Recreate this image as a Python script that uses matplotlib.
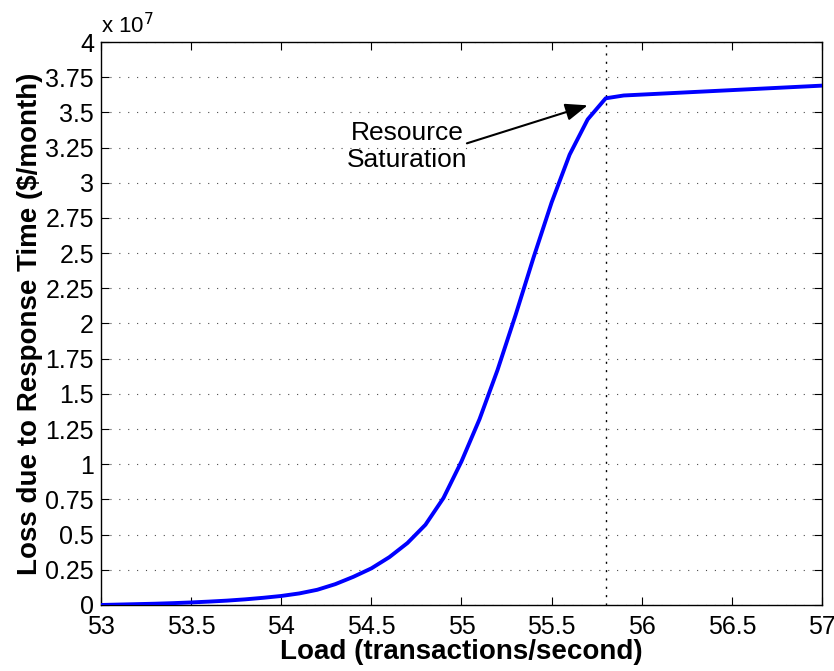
import numpy as np
import matplotlib.pyplot as plt
from matplotlib.ticker import MultipleLocator, FuncFormatter

plt.rcParams['font.family'] = ['Liberation Sans', 'DejaVu Sans']

# нагрузка (транзакций/с) и потери (x 1e7 $/месяц)
load = [53.0, 53.1, 53.2, 53.3, 53.4, 53.5, 53.6, 53.7, 53.8, 53.9,
        54.0, 54.1, 54.2, 54.3, 54.4, 54.5, 54.6, 54.7, 54.8, 54.9,
        55.0, 55.1, 55.2, 55.3, 55.4, 55.5, 55.6, 55.7, 55.8, 55.9, 57.0]
loss = [0.0, 0.003, 0.006, 0.009, 0.013, 0.018, 0.024, 0.031, 0.040, 0.051,
        0.064, 0.082, 0.108, 0.148, 0.200, 0.26, 0.34, 0.44, 0.57, 0.76,
        1.02, 1.32, 1.67, 2.06, 2.47, 2.86, 3.20, 3.45, 3.60, 3.62, 3.69]
saturation_load = 55.8

fig = plt.figure(figsize=(8.34, 6.71), dpi=100)
ax = fig.add_axes([0.1211, 0.0984, 0.8645, 0.839])

ax.plot(load, np.array(loss) * 1e7, color='#0000ff', lw=2.8, zorder=3)
ax.axvline(saturation_load, color='k', ls=(0, (1.5, 4.5)), lw=1.0, zorder=2)

ax.set_xlim(53, 57)
ax.set_ylim(0, 4e7)
ax.xaxis.set_major_locator(MultipleLocator(0.5))
ax.yaxis.set_major_locator(MultipleLocator(0.25e7))
ax.xaxis.set_major_formatter(FuncFormatter(lambda v, p: f'{v:g}'))
ax.yaxis.set_major_formatter(FuncFormatter(lambda v, p: f'{v / 1e7:g}'))
ax.tick_params(direction='in', length=6, width=0.8, top=True, right=True,
               labelsize=18, colors='k')
ax.tick_params(axis='x', pad=7)
ax.tick_params(axis='y', pad=5)
ax.yaxis.grid(True, color='0.3', ls=(0, (1, 7)), lw=0.8)
for s in ax.spines.values():
    s.set_linewidth(1.0)

ax.text(0.0, 1.006, r'x 10$^{7}$', transform=ax.transAxes, fontsize=16,
        ha='left', va='bottom')

ax.set_xlabel('Load (transactions/second)', fontsize=20, fontweight='bold', labelpad=0)
ax.set_ylabel('Loss due to Response Time ($/month)', fontsize=20, fontweight='bold', labelpad=2)

ax.text(54.70, 3.26e7, 'Resource\nSaturation', fontsize=19, ha='center', va='center',
        linespacing=1.15)
ax.annotate('', xy=(55.70, 3.55e7), xytext=(55.03, 3.28e7),
            arrowprops=dict(arrowstyle='-|>,head_length=0.9,head_width=0.35',
                            mutation_scale=15, color='k', lw=1.5,
                            shrinkA=0, shrinkB=0))

fig.savefig('out.png', dpi=100)
